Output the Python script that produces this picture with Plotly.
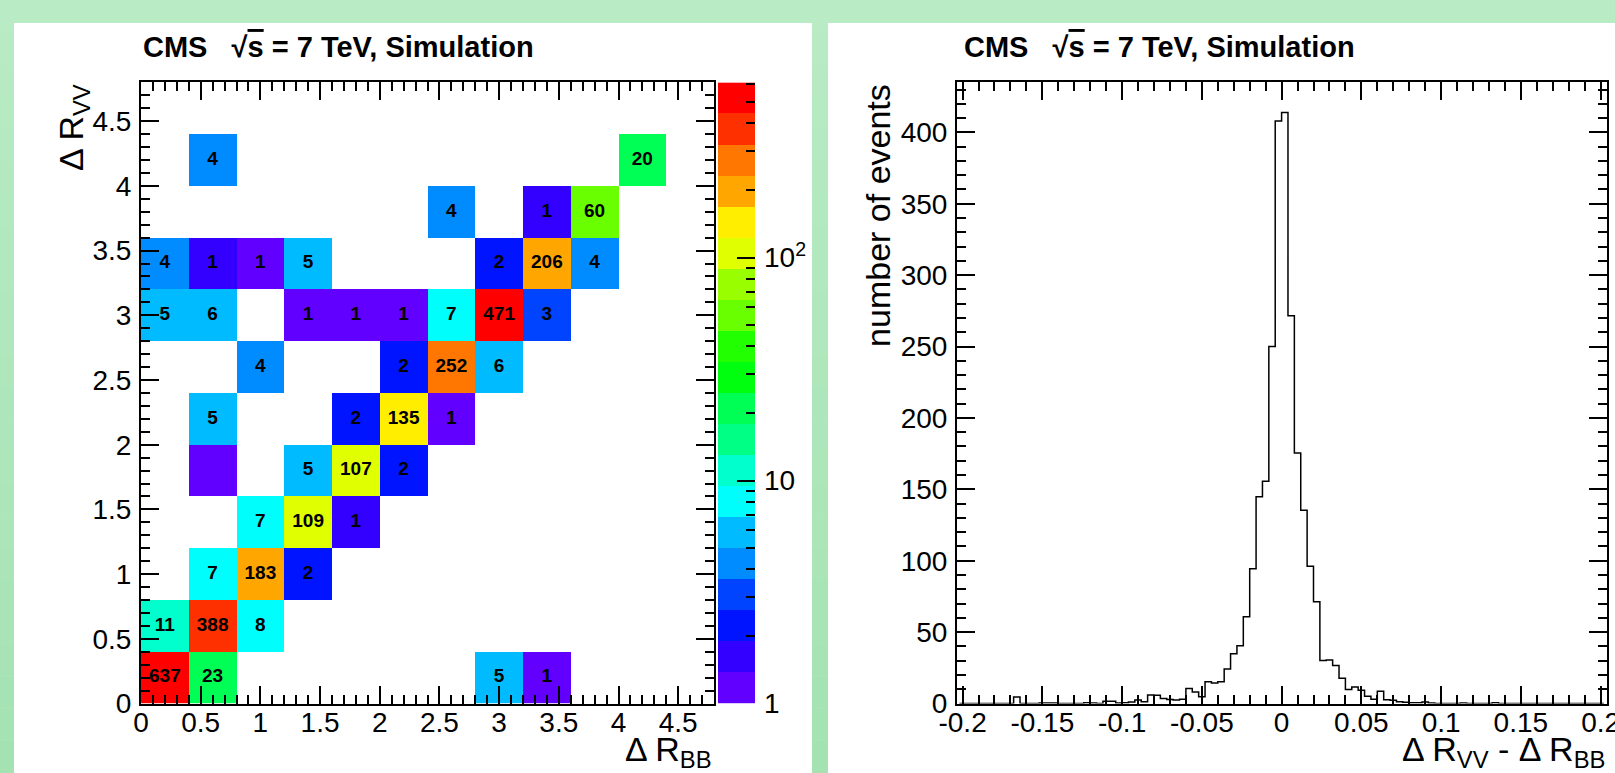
import numpy as np
import plotly.graph_objects as go

W, H = 1615, 773

# ---------------- left panel: Delta R_VV vs Delta R_BB map ----------------
DR_EDGES = [0.0, 0.4, 0.8, 1.2, 1.6, 2.0, 2.4, 2.8, 3.2, 3.6, 4.0, 4.4, 4.8]
cell_dr_bb = [0.2, 0.6, 3.0, 3.4,
              0.2, 0.6, 1.0,
              0.6, 1.0, 1.4,
              1.0, 1.4, 1.8,
              0.6, 1.4, 1.8, 2.2,
              0.6, 1.8, 2.2, 2.6,
              1.0, 2.2, 2.6, 3.0,
              0.2, 0.6, 1.4, 1.8, 2.2, 2.6, 3.0, 3.4,
              0.2, 0.6, 1.0, 1.4, 3.0, 3.4, 3.8,
              2.6, 3.4, 3.8,
              0.6, 4.2]
cell_dr_vv = [0.2, 0.2, 0.2, 0.2,
              0.6, 0.6, 0.6,
              1.0, 1.0, 1.0,
              1.4, 1.4, 1.4,
              1.8, 1.8, 1.8, 1.8,
              2.2, 2.2, 2.2, 2.2,
              2.6, 2.6, 2.6, 2.6,
              3.0, 3.0, 3.0, 3.0, 3.0, 3.0, 3.0, 3.0,
              3.4, 3.4, 3.4, 3.4, 3.4, 3.4, 3.4,
              3.8, 3.8, 3.8,
              4.2, 4.2]
cell_counts = [637, 23, 5, 1,
               11, 388, 8,
               7, 183, 2,
               7, 109, 1.4,
               1, 5, 107, 2,
               5, 2, 135, 1,
               4, 2, 252, 6,
               5, 6, 1, 1, 1, 7, 471, 3,
               4, 1.4, 1, 5, 2, 206, 4,
               4, 1.4, 60,
               4, 20]
cell_labels = ["637", "23", "5", "1",
               "11", "388", "8",
               "7", "183", "2",
               "7", "109", "1",
               "", "5", "107", "2",
               "5", "2", "135", "1",
               "4", "2", "252", "6",
               "5", "6", "1", "1", "1", "7", "471", "3",
               "4", "1", "1", "5", "2", "206", "4",
               "4", "1", "60",
               "4", "20"]
map_tickvals = [0, 0.5, 1, 1.5, 2, 2.5, 3, 3.5, 4, 4.5]
map_ticktext = ["0", "0.5", "1", "1.5", "2", "2.5", "3", "3.5", "4", "4.5"]
Z_MIN, Z_MAX = 1.0, 610.0
cbar_tickvals = [1, 10, 100]
cbar_ticktext = ["1", "10", "10<sup>2</sup>"]
cbar_minorvals = [2, 3, 4, 5, 6, 7, 8, 9, 20, 30, 40, 50, 60, 70, 80, 90,
                  200, 300, 400, 500, 600]

PALETTE = ["#6200ff", "#3300ff", "#0014ff", "#0044ff", "#008bff",
           "#00bbff", "#00fffc", "#00ffcc", "#00ff85", "#00ff55",
           "#00ff0e", "#22ff00", "#69ff00", "#99ff00", "#e0ff00",
           "#ffee00", "#ffa700", "#ff7700", "#ff3000", "#ff0000"]

# ---------------- right panel: Delta R_VV - Delta R_BB ----------------
HIST_LOW, HIST_HIGH, HIST_NBINS = -0.204, 0.204, 102
hist_counts = [0, 0, 0, 0, 0, 0, 0, 0, 0, 4.5,
               0, 0, 0, 0.3, 0.3, 0.3, 0, 0, 0, 0,
               0.6, 0.3, 0, 1.6, 1.6, 0.4, 0.5, 1.0, 2.4, 1.2,
               6.0, 5.8, 3.5, 2.8, 2.4, 3.0, 10.5, 8.0, 4.7, 15.3,
               14.3, 15.3, 24.2, 34.8, 40.4, 60.7, 94.3, 144.8, 155.7, 250.0,
               408.0, 414.0, 271.6, 175.5, 135.4, 96.2, 71.2, 30.2, 30.4, 26.7,
               17.7, 9.8, 11.6, 9.2, 5.0, 3.0, 8.6, 2.7, 2.2, 1.2,
               0.8, 0.5, 0.5, 1.0, 0.3, 0, 0, 0, 0, 0.3,
               0, 0, 0, 0, 0.5, 0, 0, 0, 0, 0,
               0, 0, 0, 0, 0, 0, 0, 0, 0, 0,
               0, 0]
hist_tickvals = [-0.2, -0.15, -0.1, -0.05, 0, 0.05, 0.1, 0.15, 0.2]
hist_ticktext = ["-0.2", "-0.15", "-0.1", "-0.05", "0", "0.05", "0.1", "0.15", "0.2"]
HIST_XRANGE = [-0.2035, 0.204]
HIST_YMAX = 435

# ---------------- build ----------------
FONT = "Liberation Sans, Arial, Helvetica, sans-serif"

edges = np.array(DR_EDGES)
centers = 0.5 * (edges[:-1] + edges[1:])
nb = len(centers)
zgrid = [[None] * nb for _ in range(nb)]
for bx, by, c in zip(cell_dr_bb, cell_dr_vv, cell_counts):
    ix = int(np.searchsorted(edges, bx) - 1)
    iy = int(np.searchsorted(edges, by) - 1)
    zgrid[iy][ix] = float(np.log10(c))

ncol = len(PALETTE)
cscale = []
for k, col in enumerate(PALETTE):
    cscale.append([k / ncol, col])
    cscale.append([(k + 1) / ncol, col])
zlo, zhi = np.log10(Z_MIN), np.log10(Z_MAX)

fig = go.Figure()
fig.add_trace(go.Heatmap(x=centers, y=centers, z=zgrid, colorscale=cscale,
                         zmin=zlo, zmax=zhi, showscale=False, hoverinfo="skip",
                         xaxis="x", yaxis="y"))
fig.add_trace(go.Scatter(x=cell_dr_bb, y=cell_dr_vv, text=cell_labels, mode="text",
                         textposition="middle center",
                         textfont=dict(size=19, color="black", family=FONT, weight="bold"),
                         hoverinfo="skip", xaxis="x", yaxis="y", showlegend=False))

# colour scale drawn as its own axis (log z)
lev = np.linspace(zlo, zhi, ncol + 1)
fig.add_trace(go.Heatmap(x=[0, 1], y=lev,
                         z=[[0.5 * (lev[k] + lev[k + 1])] for k in range(ncol)],
                         colorscale=cscale, zmin=zlo, zmax=zhi, showscale=False,
                         hoverinfo="skip", xaxis="x3", yaxis="y3"))

hw = (HIST_HIGH - HIST_LOW) / HIST_NBINS
hcent = HIST_LOW + hw * (np.arange(HIST_NBINS) + 0.5)
fig.add_trace(go.Scatter(x=hcent, y=hist_counts, mode="lines",
                         line=dict(shape="hvh", color="black", width=1.5),
                         hoverinfo="skip", xaxis="x2", yaxis="y2", showlegend=False))

# ---------------- layout ----------------
def px_x(p):
    return p / W

def px_y(p):
    return 1 - p / H

TOP, BOT = 82.4, 703.5
ydom = [px_y(BOT), px_y(TOP)]
TICKFONT = dict(size=28, family=FONT, color="black")

axis_common = dict(showline=True, linecolor="black", linewidth=2, mirror="ticks",
                   ticks="inside", ticklen=18, tickwidth=1.5, tickcolor="black",
                   showgrid=False, zeroline=False, automargin=False,
                   ticklabeloverflow="allow", tickfont=TICKFONT)
minor_common = dict(ticks="inside", ticklen=9, tickwidth=1.5, tickcolor="black",
                    showgrid=False)

shapes = []
# page background gradient (top lighter, bottom darker)
top_rgb = np.array([185, 235, 196])
bot_rgb = np.array([164, 226, 178])
nband = 24
for i in range(nband):
    f = (i + 0.5) / nband
    c = top_rgb + (bot_rgb - top_rgb) * f
    shapes.append(dict(type="rect", xref="paper", yref="paper", x0=0, x1=1,
                       y0=1 - (i + 1) / nband, y1=1 - i / nband, layer="below",
                       line=dict(width=0),
                       fillcolor="rgb(%d,%d,%d)" % tuple(int(round(v)) for v in c)))
# white panels
shapes.append(dict(type="rect", xref="paper", yref="paper", x0=px_x(14), x1=px_x(812),
                   y0=0, y1=px_y(23), layer="below", line=dict(width=0), fillcolor="white"))
shapes.append(dict(type="rect", xref="paper", yref="paper", x0=px_x(828), x1=1,
                   y0=0, y1=px_y(23), layer="below", line=dict(width=0), fillcolor="white"))

title_txt = "CMS&nbsp;&nbsp;&nbsp;√<span style='text-decoration:overline'>s</span> = 7 TeV, Simulation"
TITLE_FONT = dict(size=29, family=FONT, color="black")
AX_FONT = dict(size=34, family=FONT, color="black")
annotations = [
    dict(text="<b>" + title_txt + "</b>", x=px_x(141), y=px_y(47), xref="paper", yref="paper",
         xanchor="left", yanchor="middle", showarrow=False, font=TITLE_FONT),
    dict(text="<b>" + title_txt + "</b>", x=px_x(962), y=px_y(47), xref="paper", yref="paper",
         xanchor="left", yanchor="middle", showarrow=False, font=TITLE_FONT),
    dict(text="Δ R<sub>VV</sub>", x=px_x(74), y=px_y(TOP), xref="paper", yref="paper",
         xanchor="center", yanchor="top", textangle=-90, showarrow=False, font=AX_FONT),
    dict(text="Δ R<sub>BB</sub>", x=px_x(714), y=px_y(751), xref="paper", yref="paper",
         xanchor="right", yanchor="middle", showarrow=False, font=AX_FONT),
    dict(text="number of events", x=px_x(878), y=px_y(TOP), xref="paper", yref="paper",
         xanchor="center", yanchor="top", textangle=-90, showarrow=False, font=AX_FONT),
    dict(text="Δ R<sub>VV</sub> - Δ R<sub>BB</sub>", x=px_x(1607), y=px_y(751),
         xref="paper", yref="paper", xanchor="right", yanchor="middle", showarrow=False,
         font=AX_FONT),
]

fig.update_layout(
    width=W, height=H, margin=dict(l=0, r=0, t=0, b=0, pad=0, autoexpand=False),
    paper_bgcolor="rgb(185,235,196)", plot_bgcolor="white",
    font=dict(family=FONT, color="black"),
    showlegend=False, shapes=shapes, annotations=annotations,
    xaxis=dict(axis_common, domain=[px_x(141), px_x(714)], range=[DR_EDGES[0], DR_EDGES[-1]],
               tickmode="array", tickvals=map_tickvals, ticktext=map_ticktext,
               ticklabelstandoff=-7,
               minor=dict(minor_common, dtick=0.1, tick0=0), anchor="y"),
    yaxis=dict(axis_common, domain=ydom, range=[DR_EDGES[0], DR_EDGES[-1]],
               tickmode="array", tickvals=map_tickvals, ticktext=map_ticktext,
               ticklabelstandoff=2,
               minor=dict(minor_common, dtick=0.1, tick0=0), anchor="x"),
    xaxis2=dict(axis_common, domain=[px_x(957), px_x(1607)], range=HIST_XRANGE,
                tickmode="array", tickvals=hist_tickvals, ticktext=hist_ticktext,
                ticklabelstandoff=-7,
                minor=dict(minor_common, dtick=0.01, tick0=0), anchor="y2"),
    yaxis2=dict(axis_common, domain=ydom, range=[0, HIST_YMAX], dtick=50, tick0=0,
                ticklabelstandoff=2,
                minor=dict(minor_common, dtick=10, tick0=0), anchor="x2"),
    xaxis3=dict(domain=[px_x(718), px_x(755)], range=[0, 1], visible=False, anchor="y3",
                automargin=False),
    yaxis3=dict(domain=ydom, range=[zlo, zhi], side="right", anchor="x3", showline=False,
                ticks="inside", ticklen=18, tickwidth=1.5, tickcolor="black",
                showgrid=False, zeroline=False, automargin=False,
                tickmode="array", tickvals=list(np.log10(cbar_tickvals)), ticktext=cbar_ticktext,
                ticklabelstandoff=8, tickfont=TICKFONT,
                minor=dict(minor_common, tickmode="array",
                           tickvals=list(np.log10(cbar_minorvals)))),
)

fig.write_html("out.html")
